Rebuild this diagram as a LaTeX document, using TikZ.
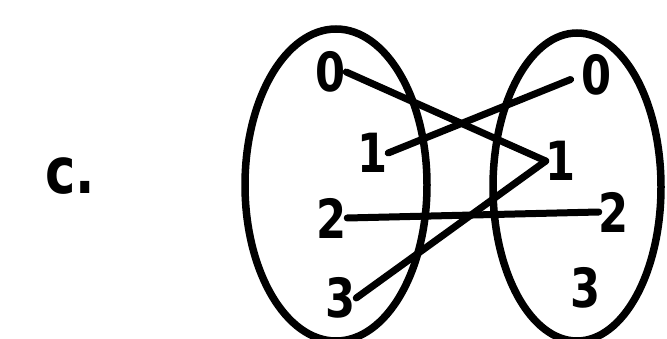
\documentclass[tikz,border=0pt]{standalone}
\usepackage{fontspec}
\newfontfamily\dfont{DejaVu Sans}[FakeStretch=0.8]
\begin{document}
\begin{tikzpicture}[x=1pt,y=-1pt,
  digit/.style={inner sep=0pt, font=\dfont\bfseries\fontsize{54}{54}\selectfont},
  setring/.style={line width=7.5pt, draw=black},
  link/.style={line width=7pt, draw=black, line cap=round}]
\useasboundingbox (0,0) rectangle (667,339);
\node[inner sep=0pt, font=\dfont\bfseries\fontsize{64}{64}\selectfont] (lab) at (70,176) {c.};
\draw[setring] (336,185) ellipse [x radius=91, y radius=156];
\draw[setring] (577,187) ellipse [x radius=84, y radius=154];
\node[digit] (l0) at (331,72) {0};
\node[digit] (l1) at (373,153) {1};
\node[digit] (l2) at (332,218) {2};
\node[digit] (l3) at (341,298) {3};
\node[digit] (r0) at (597,75) {0};
\node[digit] (r1) at (561,161) {1};
\node[digit] (r2) at (614,212) {2};
\node[digit] (r3) at (586,288) {3};
\draw[link] (l0.east) -- (r1.west);
\draw[link, shorten >=12pt] (l1.east) -- (r0.west);
\draw[link] (l2.east) -- (r2.west);
\draw[link] (l3.east) -- (r1.west);
\end{tikzpicture}
\end{document}
